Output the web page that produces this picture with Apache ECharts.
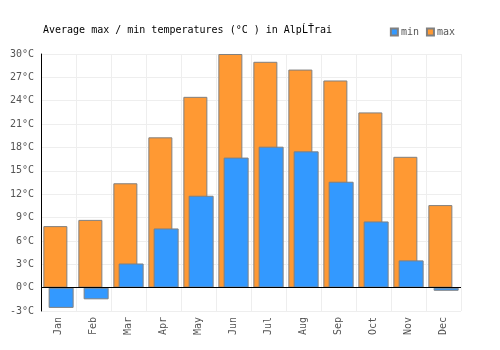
<!DOCTYPE html>
<html>
<head>
<meta charset="utf-8">
<script src="https://cdn.jsdelivr.net/npm/echarts@6/dist/echarts.min.js"></script>
<style>
  html, body { margin: 0; padding: 0; background: #fff; }
  #chart { width: 500px; height: 350px; }
</style>
</head>
<body>
<div id="chart"></div>
<script>
  // 月份 / 数据
  var months = ['Jan', 'Feb', 'Mar', 'Apr', 'May', 'Jun', 'Jul', 'Aug', 'Sep', 'Oct', 'Nov', 'Dec'];
  var minTemps = [-2.6, -1.5, 3.1, 7.6, 11.8, 16.7, 18.1, 17.5, 13.6, 8.5, 3.5, -0.4];
  var maxTemps = [7.9, 8.7, 13.4, 19.3, 24.5, 30.0, 29.0, 28.0, 26.6, 22.5, 16.8, 10.6];

  var font = 'DejaVu Sans Mono';
  var myChart = echarts.init(document.getElementById('chart'));
  var option = {
    animation: false,
    textStyle: { fontFamily: font },
    title: {
      text: 'Average max / min temperatures (°C ) in AlpĹŤrai',
      left: 38,
      top: 20,
      textStyle: { fontFamily: font, fontSize: 10, fontWeight: 'normal', color: '#000' }
    },
    legend: {
      data: ['min', 'max'],
      right: 40,
      top: 22,
      itemWidth: 7,
      itemHeight: 7,
      itemGap: 7,
      icon: 'rect',
      textStyle: { fontFamily: font, fontSize: 10, color: '#555', padding: [0, 0, 0, -2] }
    },
    grid: { left: 41, right: 39, top: 54, bottom: 39 },
    xAxis: {
      type: 'category',
      data: months,
      axisLine: { show: false, onZero: false },
      axisTick: { show: false },
      splitLine: { show: true, lineStyle: { color: '#eeeeee' } },
      axisLabel: { rotate: 90, margin: 6, fontSize: 10, color: '#555', fontFamily: font }
    },
    yAxis: {
      type: 'value',
      min: -3,
      max: 30,
      interval: 3,
      axisLine: { show: true, lineStyle: { color: '#000' } },
      axisTick: { show: false },
      splitLine: { lineStyle: { color: '#eeeeee' } },
      axisLabel: { formatter: '{value}°C', margin: 7, fontSize: 10, color: '#555', fontFamily: font }
    },
    series: [{
      name: 'max',
      type: 'bar',
      data: maxTemps,
      barWidth: 24,
      barGap: '-78%',
      itemStyle: { color: '#ff9933', borderColor: '#808080', borderWidth: 1 },
      markLine: {
        silent: true,
        symbol: 'none',
        label: { show: false },
        lineStyle: { color: '#000', type: 'solid', width: 1 },
        data: [{ yAxis: 0 }]
      }
    }, {
      name: 'min',
      type: 'bar',
      data: minTemps,
      barWidth: 25,
      itemStyle: { color: '#3399ff', borderColor: '#808080', borderWidth: 1 }
    }]
  };
  myChart.setOption(option);
</script>
</body>
</html>
